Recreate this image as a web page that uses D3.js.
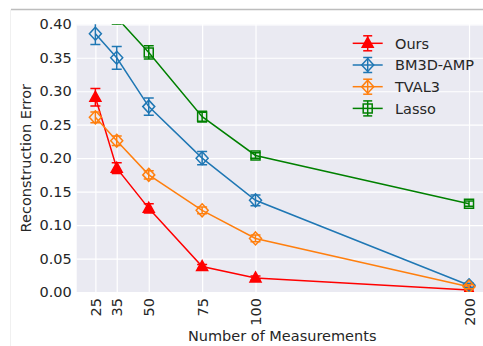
<!DOCTYPE html>
<html>
<head>
<meta charset="utf-8">
<script src="https://cdn.jsdelivr.net/npm/d3@7"></script>
<style>
  body { margin: 0; background: #fff; }
  text { font-family: "DejaVu Sans", sans-serif; fill: #262626; }
</style>
</head>
<body>
<div class="chart-container"></div>
<script>
// values
const measurements = [25, 35, 50, 75, 100, 200];
const yTicks = [0, 0.05, 0.10, 0.15, 0.20, 0.25, 0.30, 0.35, 0.40];

const oursMean = [0.291, 0.185, 0.125, 0.038, 0.021, 0.003];
const oursErr  = [0.013, 0.008, 0.007, 0.003, 0.003, 0.002];
const bm3dMean = [0.386, 0.350, 0.277, 0.200, 0.137, 0.010];
const bm3dErr  = [0.016, 0.017, 0.013, 0.010, 0.008, 0.003];
const tvalMean = [0.261, 0.226, 0.175, 0.122, 0.080, 0.008];
const tvalErr  = [0.008, 0.007, 0.006, 0.005, 0.005, 0.003];
const lassoMean = [0.470, 0.410, 0.358, 0.262, 0.204, 0.132];
const lassoErr  = [0.010, 0.010, 0.010, 0.008, 0.004, 0.004];

const series = [
  {name:'Ours', mean:oursMean, err:oursErr, color:'#ff0000', marker:'triangle'},
  {name:'BM3D-AMP', mean:bm3dMean, err:bm3dErr, color:'#1f77b4', marker:'diamond'},
  {name:'TVAL3', mean:tvalMean, err:tvalErr, color:'#ff7f0e', marker:'diamond'},
  {name:'Lasso', mean:lassoMean, err:lassoErr, color:'#008000', marker:'square'}
];

const svg_width = 483;
const svg_height = 346;
const plot = {left:76.7, top:24.3, right:487.7, bottom:292};

const svg = d3.select('.chart-container').append('svg')
  .attr('width', svg_width).attr('height', svg_height);

// page border lines
svg.append('line').attr('x1',11).attr('x2',svg_width).attr('y1',9.5).attr('y2',9.5)
  .style('stroke','#bdbdbd').style('stroke-width',1.5);
svg.append('line').attr('x1',10.5).attr('x2',10.5).attr('y1',9.5).attr('y2',svg_height)
  .style('stroke','#f0f0f0').style('stroke-width',1);

//scale
const xScale = d3.scaleLinear().domain([16.25, 208.75]).range([plot.left, plot.right]);
const yScale = d3.scaleLinear().domain([0, 0.4]).range([plot.bottom, plot.top]);

svg.append('defs').append('clipPath').attr('id','clip')
  .append('rect')
  .attr('x',plot.left).attr('y',plot.top)
  .attr('width',plot.right-plot.left).attr('height',plot.bottom-plot.top);

svg.append('rect')
  .attr('x',plot.left).attr('y',plot.top)
  .attr('width',plot.right-plot.left).attr('height',plot.bottom-plot.top)
  .style('fill','#eaeaf2');

//grid
const xAxis = d3.axisBottom(xScale).tickValues(measurements)
  .tickSizeInner(-(plot.bottom-plot.top)).tickSizeOuter(0).tickPadding(6);
const xAxisDraw = svg.append('g').attr('transform',`translate(0,${plot.bottom})`).call(xAxis);
xAxisDraw.select('.domain').remove();
xAxisDraw.selectAll('line').style('stroke','#fff').style('stroke-width',1.2);
xAxisDraw.selectAll('text')
  .attr('transform','rotate(-90)')
  .attr('x',-6).attr('y',0).attr('dy','0.35em')
  .style('text-anchor','end')
  .style('font-size','14.5px')
  .style('font-family','DejaVu Sans').style('fill','#262626');

const yAxis = d3.axisLeft(yScale).tickValues(yTicks).tickFormat(d3.format('.2f'))
  .tickSizeInner(-(plot.right-plot.left)).tickSizeOuter(0).tickPadding(5);
const yAxisDraw = svg.append('g').attr('transform',`translate(${plot.left},0)`).call(yAxis);
yAxisDraw.select('.domain').remove();
yAxisDraw.selectAll('line').style('stroke','#fff').style('stroke-width',1.2);
yAxisDraw.selectAll('text').style('font-size','14.5px')
  .style('font-family','DejaVu Sans').style('fill','#262626');

//axis labels
svg.append('text').text('Number of Measurements')
  .attr('x',(plot.left+plot.right)/2).attr('y',341)
  .style('text-anchor','middle').style('font-size','14.5px');
svg.append('text').text('Reconstruction Error')
  .attr('transform',`translate(31,${(plot.top+plot.bottom)/2}) rotate(-90)`)
  .style('text-anchor','middle').style('font-size','14.5px');

function markerPath(type){
  if(type=='triangle') return 'M0,-6L5.5,4L-5.5,4Z';
  if(type=='diamond') return 'M0,-6.5L6,0L0,6.5L-6,0Z';
  return 'M-4.5,-4.5H4.5V4.5H-4.5Z';
}

function drawSeries(g, s){
  const pts = measurements.map((m,i)=>({x:m, y:s.mean[i], e:s.err[i]}));
  g.append('path').datum(pts)
    .attr('d', d3.line().x(d=>xScale(d.x)).y(d=>yScale(d.y)))
    .style('fill','none').style('stroke',s.color).style('stroke-width',1.5);
  const bars = g.selectAll('.bar').data(pts).join('g').attr('class','bar');
  bars.append('line')
    .attr('x1',d=>xScale(d.x)).attr('x2',d=>xScale(d.x))
    .attr('y1',d=>yScale(d.y-d.e)).attr('y2',d=>yScale(d.y+d.e))
    .style('stroke',s.color).style('stroke-width',1.5);
  [-1,1].forEach(sign=>{
    bars.append('line')
      .attr('x1',d=>xScale(d.x)-5).attr('x2',d=>xScale(d.x)+5)
      .attr('y1',d=>yScale(d.y+sign*d.e)).attr('y2',d=>yScale(d.y+sign*d.e))
      .style('stroke',s.color).style('stroke-width',1.5);
  });
  g.selectAll('.mark').data(pts).join('path').attr('class','mark')
    .attr('transform',d=>`translate(${xScale(d.x)},${yScale(d.y)})`)
    .attr('d',markerPath(s.marker))
    .style('fill',s.marker=='triangle'? s.color : 'none')
    .style('stroke',s.color).style('stroke-width',1.5);
}

const chart = svg.append('g').attr('clip-path','url(#clip)');
series.forEach(s=>drawSeries(chart.append('g'), s));

//legend
const legend = svg.append('g').attr('transform','translate(352.7,43.3)');
series.forEach((s,i)=>{
  const row = legend.append('g').attr('transform',`translate(0,${i*21.7})`);
  row.append('line').attr('x1',0).attr('x2',30).attr('y1',0).attr('y2',0)
    .style('stroke',s.color).style('stroke-width',1.5);
  row.append('line').attr('x1',15).attr('x2',15).attr('y1',-7.5).attr('y2',7.5)
    .style('stroke',s.color).style('stroke-width',1.5);
  [-7.5,7.5].forEach(dy=>{
    row.append('line').attr('x1',10.5).attr('x2',19.5).attr('y1',dy).attr('y2',dy)
      .style('stroke',s.color).style('stroke-width',1.5);
  });
  row.append('path').attr('transform','translate(15,0)')
    .attr('d',markerPath(s.marker))
    .style('fill',s.marker=='triangle'? s.color : 'none')
    .style('stroke',s.color).style('stroke-width',1.5);
  row.append('text').text(s.name).attr('x',42.3).attr('y',0).attr('dy','0.36em')
    .style('font-size','14.5px');
});
</script>
</body>
</html>
